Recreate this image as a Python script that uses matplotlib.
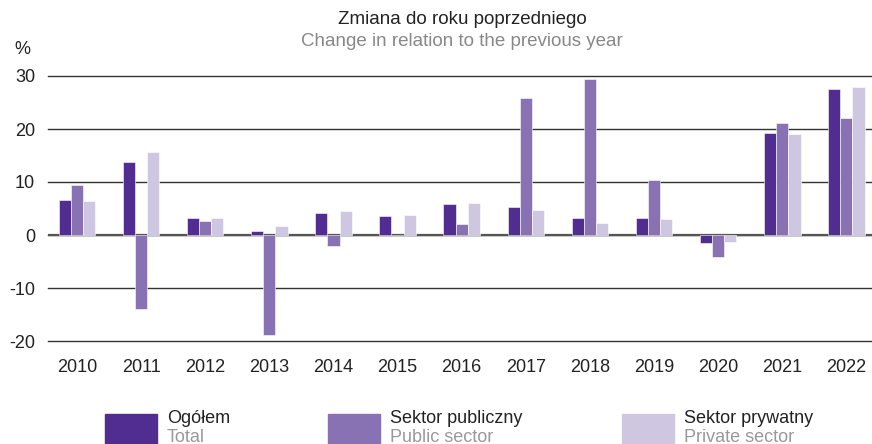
import numpy as np
import matplotlib.pyplot as plt
from matplotlib.patches import Rectangle

plt.rcParams['font.family'] = ['Liberation Sans', 'DejaVu Sans']

# dane
lata = ['2010', '2011', '2012', '2013', '2014', '2015', '2016',
        '2017', '2018', '2019', '2020', '2021', '2022']
ogolem = [6.6, 13.8, 3.2, 0.7, 4.2, 3.5, 5.8, 5.3, 3.3, 3.3, -1.5, 19.2, 27.5]
publiczny = [9.4, -14.0, 2.7, -18.9, -2.0, 0.0, 2.1, 25.8, 29.4, 10.4, -4.1, 21.1, 22.1]
prywatny = [6.4, 15.7, 3.2, 1.7, 4.5, 3.7, 6.0, 4.7, 2.3, 3.0, -1.4, 19.1, 27.9]

nazwy_pl = ['Ogółem', 'Sektor publiczny', 'Sektor prywatny']
nazwy_en = ['Total', 'Public sector', 'Private sector']
kolory = ['#512d92', '#8872b3', '#cfc7e2']

fig = plt.figure(figsize=(8.72, 4.44), dpi=100)
ax = fig.add_axes([47.5 / 872, 1 - 341 / 444, 1 - 47.5 / 872, (341 - 76) / 444])

x = np.arange(len(lata))
w = 0.19
for i, serie in enumerate([ogolem, publiczny, prywatny]):
    ax.bar(x + (i - 1) * w, serie, width=w, color=kolory[i],
           edgecolor='white', linewidth=0.4, zorder=3)

ax.set_ylim(-20, 30)
ax.set_xlim(-0.46, 12.4)
ax.set_yticks([-20, -10, 0, 10, 20, 30])
ax.set_yticklabels(['-20', '-10', '0', '10', '20', '30'])
ax.set_xticks(x)
ax.set_xticklabels(lata)
ax.tick_params(length=0, labelsize=13, colors='#222222')
ax.tick_params(axis='x', pad=13)
ax.tick_params(axis='y', pad=9)
for s in ax.spines.values():
    s.set_visible(False)
ax.yaxis.grid(True, color='#333333', linewidth=1.0, zorder=0)
for ln in ax.get_ygridlines():
    ln.set_clip_on(False)
ax.axhline(0, color='#555555', linewidth=1.6, zorder=2)

fig.text(22 / 872, 1 - 50 / 444, '%', fontsize=13, color='#222222',
         ha='center', va='center')
fig.text(462 / 872, 1 - 19 / 444, 'Zmiana do roku poprzedniego',
         fontsize=13.5, color='#222222', ha='center', va='center')
fig.text(462 / 872, 1 - 41 / 444, 'Change in relation to the previous year',
         fontsize=13.5, color='#888888', ha='center', va='center')

# legenda
px = [105, 328, 622]
for i in range(3):
    fig.add_artist(Rectangle((px[i] / 872, 0), 52 / 872, 30 / 444,
                             transform=fig.transFigure, color=kolory[i]))
    fig.text((px[i] + 62) / 872, 1 - 418 / 444, nazwy_pl[i], fontsize=13,
             color='#222222', ha='left', va='center')
    fig.text((px[i] + 62) / 872, 1 - 437 / 444, nazwy_en[i], fontsize=13,
             color='#999999', ha='left', va='center')

fig.savefig('out.png', dpi=100)
